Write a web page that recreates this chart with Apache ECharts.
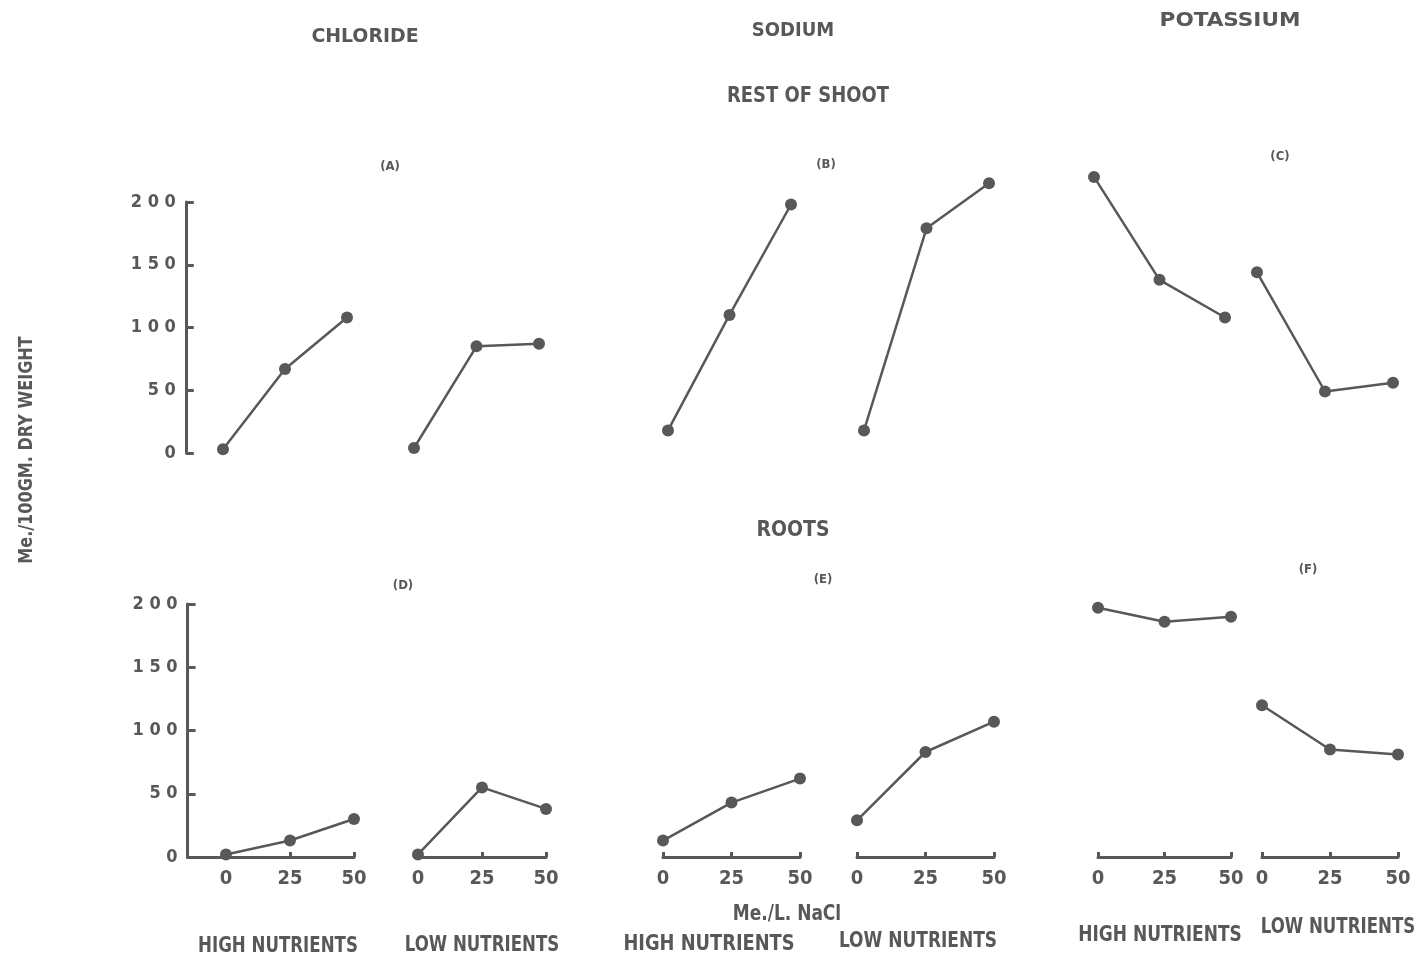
<!DOCTYPE html>
<html>
<head>
<meta charset="utf-8">
<style>html,body{margin:0;padding:0;background:#fff}#c{width:1425px;height:963px}</style>
<script src="https://cdn.jsdelivr.net/npm/echarts@6.0.0/dist/echarts.min.js"></script>
</head>
<body>
<div id="c"></div>
<script>
// ---- data ----
const doses = [0, 25, 50];               // Me./L. NaCl
const xTickValues = [0, 25, 50];
const yTickValues = [0, 50, 100, 150, 200];

const shootChlorideHigh  = [3, 67, 108];
const shootChlorideLow   = [4, 85, 87];
const shootSodiumHigh    = [18, 110, 198];
const shootSodiumLow     = [18, 179, 215];
const shootPotassiumHigh = [220, 138, 108];
const shootPotassiumLow  = [144, 49, 56];

const rootChlorideHigh   = [2, 13, 30];
const rootChlorideLow    = [2, 55, 38];
const rootSodiumHigh     = [13, 43, 62];
const rootSodiumLow      = [29, 83, 107];
const rootPotassiumHigh  = [197, 186, 190];
const rootPotassiumLow   = [120, 85, 81];

const ink = '#585858';
const FONT = '"DejaVu Sans Condensed", "DejaVu Sans", sans-serif';

// ---- layout of sub-plots ----
const TOP = {top: 202, height: 251};
const BOT = {top: 604, height: 253};
const panels = [
  {d: shootChlorideHigh,  row: TOP, left: 185.8, width: 161.2, xmin: -15, yAxis: true,  xAxis: false},
  {d: shootChlorideLow,   row: TOP, left: 414,   width: 125,   xmin: 0,   yAxis: false, xAxis: false},
  {d: shootSodiumHigh,    row: TOP, left: 668,   width: 123,   xmin: 0,   yAxis: false, xAxis: false},
  {d: shootSodiumLow,     row: TOP, left: 864,   width: 125,   xmin: 0,   yAxis: false, xAxis: false},
  {d: shootPotassiumHigh, row: TOP, left: 1094,  width: 131,   xmin: 0,   yAxis: false, xAxis: false},
  {d: shootPotassiumLow,  row: TOP, left: 1257,  width: 136,   xmin: 0,   yAxis: false, xAxis: false},
  {d: rootChlorideHigh,   row: BOT, left: 187.6, width: 166.4, xmin: -15, yAxis: true,  xAxis: true},
  {d: rootChlorideLow,    row: BOT, left: 418,   width: 128,   xmin: 0,   yAxis: false, xAxis: true},
  {d: rootSodiumHigh,     row: BOT, left: 663,   width: 137,   xmin: 0,   yAxis: false, xAxis: true},
  {d: rootSodiumLow,      row: BOT, left: 857,   width: 137,   xmin: 0,   yAxis: false, xAxis: true},
  {d: rootPotassiumHigh,  row: BOT, left: 1098,  width: 133,   xmin: 0,   yAxis: false, xAxis: true},
  {d: rootPotassiumLow,   row: BOT, left: 1262,  width: 136,   xmin: 0,   yAxis: false, xAxis: true}
];

const grid = [], xAxis = [], yAxis = [], series = [];
panels.forEach((p, i) => {
  grid.push({left: p.left, width: p.width, top: p.row.top, height: p.row.height, containLabel: false});
  xAxis.push({
    type: 'value', gridIndex: i, min: p.xmin, max: 50, show: p.xAxis,
    splitLine: {show: false},
    axisLine: {show: true, onZero: false, lineStyle: {color: ink, width: 3}},
    axisTick: {show: true, inside: true, length: 5, customValues: xTickValues, lineStyle: {color: ink, width: 3}},
    axisLabel: {customValues: xTickValues, color: ink, fontSize: 20, fontWeight: 'bold', fontFamily: FONT, margin: 12}
  });
  yAxis.push({
    type: 'value', gridIndex: i, min: 0, max: 200, interval: 50, show: p.yAxis,
    splitLine: {show: false},
    axisLine: {show: true, onZero: false, lineStyle: {color: ink, width: 3}},
    axisTick: {show: true, inside: true, length: 8, customValues: yTickValues, lineStyle: {color: ink, width: 3}},
    axisLabel: {customValues: yTickValues, color: ink, fontSize: 18, fontWeight: 'bold', fontFamily: FONT, margin: 10,
      formatter: v => String(v).split('').join(' ')}
  });
  series.push({
    type: 'line', xAxisIndex: i, yAxisIndex: i, clip: false, silent: true,
    data: doses.map((x, k) => [x, p.d[k]]),
    symbol: 'circle', symbolSize: 12, showSymbol: true,
    lineStyle: {color: ink, width: 2.5}, itemStyle: {color: ink}
  });
});

// ---- text: [text, x, y, fontSize, horizontal scale] ----
const texts = [
  ['CHLORIDE', 365, 37, 20, 1.05],
  ['SODIUM', 793, 31, 20, 1],
  ['POTASSIUM', 1230, 21, 20, 1.2],
  ['REST OF SHOOT', 808, 97, 21, 0.95],
  ['ROOTS', 793, 531, 21, 1],
  ['(A)', 390, 167, 13, 1],
  ['(B)', 826, 165, 13, 1],
  ['(C)', 1280, 157, 13, 1],
  ['(D)', 403, 586, 13, 1],
  ['(E)', 823, 580, 13, 1],
  ['(F)', 1308, 570, 13, 1],
  ['Me./L. NaCl', 787, 915, 21, 0.9],
  ['HIGH NUTRIENTS', 278, 946, 22, 0.84],
  ['LOW NUTRIENTS', 482, 945, 22, 0.84],
  ['HIGH NUTRIENTS', 709, 944, 22, 0.9],
  ['LOW NUTRIENTS', 918, 941, 22, 0.86],
  ['HIGH NUTRIENTS', 1160, 935, 22, 0.86],
  ['LOW NUTRIENTS', 1338, 927, 22, 0.84]
];
const graphic = texts.map(t => ({
  type: 'text', x: t[1], y: t[2], scaleX: t[4], silent: true,
  style: {text: t[0], fill: ink, align: 'center', verticalAlign: 'middle',
    font: 'bold ' + t[3] + 'px ' + FONT}
}));
graphic.push({
  type: 'text', x: 27, y: 450, rotation: Math.PI / 2, scaleX: 0.94, silent: true,
  style: {text: 'Me./100GM. DRY WEIGHT', fill: ink, align: 'center', verticalAlign: 'middle',
    font: 'bold 19px ' + FONT}
});

const chart = echarts.init(document.getElementById('c'), null, {renderer: 'canvas'});
chart.setOption({backgroundColor: '#fff', animation: false, grid, xAxis, yAxis, series, graphic});
</script>
</body>
</html>
